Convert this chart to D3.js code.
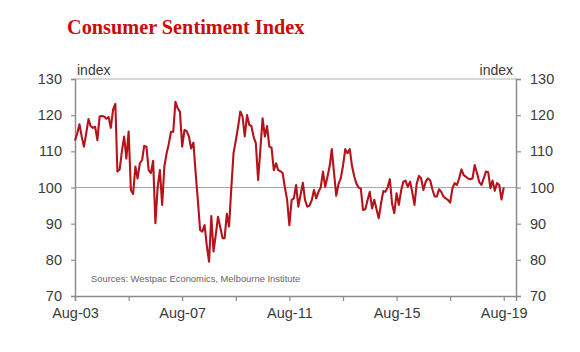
<!DOCTYPE html>
<html>
<head>
<meta charset="utf-8">
<script src="https://cdn.jsdelivr.net/npm/d3@7"></script>
<style>
  body { margin: 0; background: #fff; }
  text { font-family: "Liberation Sans", Arial, sans-serif; }
</style>
</head>
<body>
<svg id="chart"></svg>
<script>
// monthly index, Aug-03 .. Aug-19
const startYear = 2003, startMonth = 7;
const sentiment = [
  113, 115, 117.5, 114, 111.3, 115, 118.9, 117, 116.5, 116.8, 113.1, 119.6,
  119.8, 119.6, 119, 119.5, 116.5, 121.5, 123.1, 104.4, 105, 110, 114.1, 108,
  115.5, 99.3, 98.2, 105.8, 102.5, 106.7, 107.6, 111.5, 111.3, 104.8, 104, 107.4,
  90.1, 100.2, 104.8, 95.2, 105.8, 109.5, 112.2, 115.4, 115.4, 123.7, 121.9, 121,
  111.3, 115.9, 115.6, 114.1, 110.8, 112.4, 103.9, 96.6, 88.3, 87.8, 89.6, 84,
  79.5, 92.1, 82.3, 87, 91.9, 89, 86, 86, 92.7, 89.2, 100, 109.5,
  113, 116.8, 121, 119.6, 114.1, 120, 117.3, 117, 114, 112.2, 102.1, 110.4,
  119.1, 114.1, 117, 111.3, 111, 104.8, 106.7, 104.8, 104.5, 104, 100, 96.6,
  89.6, 96.6, 97, 100.7, 94.7, 98, 101.3, 96.6, 94.7, 95, 96.5, 99.3,
  97, 98.8, 100, 104.4, 100.2, 103, 106, 110.6, 104, 97.7, 101, 102.5,
  106, 110.6, 109.5, 110.6, 106, 103.1, 101, 100, 99.7, 93.8, 94, 96.5,
  98.8, 94.2, 96.6, 94, 91.5, 95.5, 99, 98.8, 100, 102.3, 95.5, 92.9,
  98.4, 95.2, 99, 101.6, 101.9, 100.2, 101.6, 98.8, 95.2, 101, 103.2, 102.5,
  99.3, 101.6, 102.5, 102, 99.5, 97.5, 97.5, 99.5, 98.8, 97.5, 97, 96.6,
  95.8, 99.8, 101.2, 100.7, 102.5, 105, 103.4, 103, 102.5, 102.3, 102.5, 106.2,
  104, 101.5, 100.7, 102.5, 104.4, 104.2, 99.8, 101.9, 99.1, 101.2, 100.7, 96.7,
  100
];
const yTicks = [70, 80, 90, 100, 110, 120, 130];
const xLabelYears = [2003, 2007, 2011, 2015, 2019];
const xMinorYears = [2005, 2009, 2013, 2017];
const title = "Consumer Sentiment Index";
const source = "Sources: Westpac Economics, Melbourne Institute";

const width = 580, height = 352;
const margin = {top: 79, right: 64, bottom: 56, left: 75};

const svg = d3.select("#chart").attr("width", width).attr("height", height);

const data = sentiment.map((v, i) => ({date: new Date(startYear, startMonth + i, 1), value: v}));

const x = d3.scaleTime()
  .domain([new Date(2003, 7, 1), new Date(2020, 0, 15)])
  .range([margin.left, width - margin.right]);
const y = d3.scaleLinear()
  .domain([70, 130])
  .range([height - margin.bottom, margin.top]);

const axisColor = "#8c8c8c";
const labelColor = "#3a3a3a";

// title
svg.append("text")
  .attr("x", 67).attr("y", 34)
  .style("font-family", "'Liberation Serif', 'Times New Roman', serif")
  .style("font-weight", "bold")
  .style("font-size", "20.3px")
  .style("fill", "#cc0a0a")
  .text(title);

// top border and 100 reference line
svg.append("line")
  .attr("x1", x.range()[0]).attr("x2", x.range()[1])
  .attr("y1", y(130)).attr("y2", y(130))
  .attr("stroke", "#b4b4b4").attr("stroke-width", 1.2);
svg.append("line")
  .attr("x1", x.range()[0]).attr("x2", x.range()[1])
  .attr("y1", y(100)).attr("y2", y(100))
  .attr("stroke", "#a8a8a8").attr("stroke-width", 1.2);

// left axis
const leftAxis = svg.append("g")
  .attr("transform", `translate(${margin.left},0)`)
  .call(d3.axisLeft(y).tickValues(yTicks).tickSize(4).tickPadding(9));
// right axis
const rightAxis = svg.append("g")
  .attr("transform", `translate(${width - margin.right},0)`)
  .call(d3.axisRight(y).tickValues(yTicks).tickSize(5).tickPadding(9));
// bottom axis
const allXTicks = xLabelYears.concat(xMinorYears).map(yr => new Date(yr, 7, 1));
const bottomAxis = svg.append("g")
  .attr("transform", `translate(0,${height - margin.bottom})`)
  .call(d3.axisBottom(x).tickValues(allXTicks).tickSize(5).tickPadding(7)
    .tickFormat(d => xLabelYears.includes(d.getFullYear()) ? d3.timeFormat("%b-%y")(d) : ""));

[leftAxis, rightAxis, bottomAxis].forEach(g => {
  g.select(".domain").attr("stroke", axisColor).attr("stroke-width", 1.5);
  g.selectAll(".tick line").attr("stroke", axisColor).attr("stroke-width", 1.2);
  g.selectAll(".tick text")
    .style("font-size", "14.5px")
    .style("fill", labelColor)
    .style("font-family", "'Liberation Sans', Arial, sans-serif");
});

// axis unit labels
svg.append("text")
  .attr("x", 77).attr("y", 75)
  .style("font-size", "14px").style("fill", labelColor)
  .text("index");
svg.append("text")
  .attr("x", 513).attr("y", 75)
  .attr("text-anchor", "end")
  .style("font-size", "14px").style("fill", labelColor)
  .text("index");

// source note
svg.append("text")
  .attr("x", 91).attr("y", 282)
  .style("font-size", "9.4px").style("fill", "#666")
  .text(source);

// series line
const line = d3.line()
  .x(d => x(d.date))
  .y(d => y(d.value));

svg.append("path")
  .datum(data)
  .attr("d", line)
  .attr("fill", "none")
  .attr("stroke", "#b5121b")
  .attr("stroke-width", 2.1)
  .attr("stroke-linejoin", "round");
</script>
</body>
</html>
